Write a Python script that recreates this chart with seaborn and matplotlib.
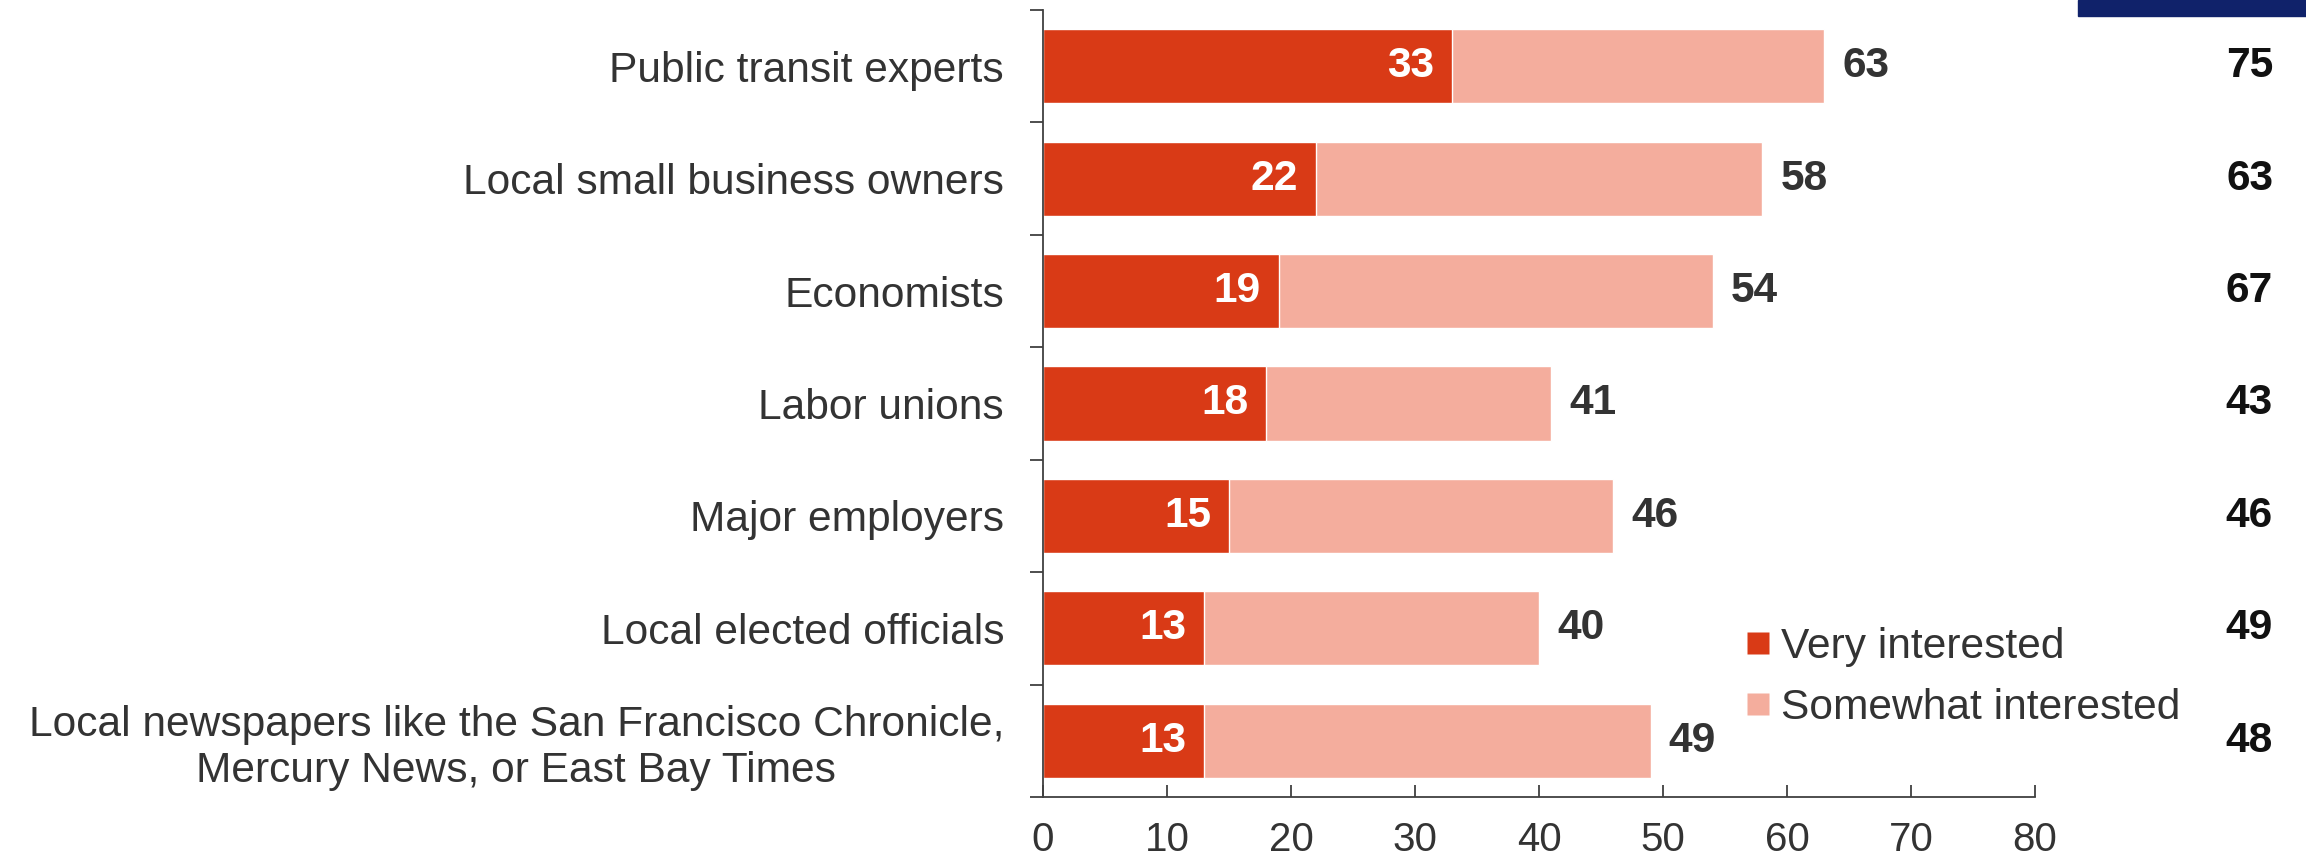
import matplotlib
matplotlib.use("Agg")
import matplotlib.pyplot as plt
import seaborn as sns
import pandas as pd
from matplotlib.lines import Line2D
import matplotlib.transforms as mtransforms

# Survey data: share of respondents interested in hearing from each group
groups = [
    "Public transit experts",
    "Local small business owners",
    "Economists",
    "Labor unions",
    "Major employers",
    "Local elected officials",
    "Local newspapers like the San Francisco Chronicle,\nMercury News, or East Bay Times",
]
very_interested = [33, 22, 19, 18, 15, 13, 13]
total_interested = [63, 58, 54, 41, 46, 40, 49]
prior_totals = [75, 63, 67, 43, 46, 49, 48]
x_ticks = [0, 10, 20, 30, 40, 50, 60, 70, 80]

DARK = "#D93A16"
LIGHT = "#F4AD9D"
TEXT = "#333333"
AXIS = "#404040"
FS = 30.6

df = pd.DataFrame({"group": groups, "very": very_interested, "total": total_interested})

sns.set_theme(style="white")
plt.rcParams["font.family"] = ["Liberation Sans", "DejaVu Sans"]

W, H, DPI = 2306, 865, 100
fig = plt.figure(figsize=(W / DPI, H / DPI), dpi=DPI)
ax = fig.add_axes([1043 / W, 1 - 797 / H, (2035 - 1043) / W, (797 - 10) / H])

# Total bar underneath, "very interested" segment drawn over it
sns.barplot(data=df, y="group", x="total", color=LIGHT, orient="h", width=0.66,
            saturation=1, ax=ax)
sns.barplot(data=df, y="group", x="very", color=DARK, orient="h", width=0.66,
            saturation=1, ax=ax)

ax.set_xlim(0, 80)
ax.set_ylim(len(groups) - 0.5, -0.5)
ax.set_xlabel("")
ax.set_ylabel("")

# Value labels
for i, (v, t) in enumerate(zip(very_interested, total_interested)):
    ax.annotate(str(v), (v, i), xytext=(-13, 0), textcoords="offset points",
                ha="right", va="center", color="white", fontsize=FS, fontweight="bold")
    ax.annotate(str(t), (t, i), xytext=(13, 0), textcoords="offset points",
                ha="left", va="center", color=TEXT, fontsize=FS, fontweight="bold")

# Comparison column at the far right
trans = mtransforms.blended_transform_factory(fig.transFigure, ax.transData)
for i, p in enumerate(prior_totals):
    ax.text(2273 / W, i, str(p), transform=trans, ha="right", va="center",
            fontsize=FS, fontweight="bold", color="#111111", clip_on=False)

# Axes styling
for s in ("top", "right"):
    ax.spines[s].set_visible(False)
for s in ("left", "bottom"):
    ax.spines[s].set_color(AXIS)
    ax.spines[s].set_linewidth(1.3)

ax.set_xticks(x_ticks)
ax.set_xticklabels([str(x) for x in x_ticks])
ax.tick_params(axis="x", direction="in", length=9, width=1.3, color=AXIS,
               labelsize=29, labelcolor=TEXT, pad=17, bottom=True)

ax.set_yticks(range(len(groups)))
ax.set_yticklabels(groups)
ax.set_yticks([i - 0.5 for i in range(len(groups) + 1)], minor=True)
ax.tick_params(axis="y", which="major", length=0, labelsize=FS, labelcolor=TEXT, pad=28)
ax.tick_params(axis="y", which="minor", direction="out", length=9.4, width=1.3,
               color=AXIS, left=True)
for lbl in ax.get_yticklabels():
    lbl.set_multialignment("center")
    lbl.set_linespacing(1.2)

# Legend
handles = [
    Line2D([], [], marker="s", linestyle="none", markersize=16, markerfacecolor=DARK,
           markeredgecolor="none", label="Very interested"),
    Line2D([], [], marker="s", linestyle="none", markersize=16, markerfacecolor=LIGHT,
           markeredgecolor="none", label="Somewhat interested"),
]
fig.legend(handles=handles, loc="upper left", bbox_to_anchor=(1745 / W, 1 - 627 / H),
           frameon=False, fontsize=FS, labelcolor=TEXT, handlelength=0.6,
           handletextpad=0.25, labelspacing=0.5, borderaxespad=0, borderpad=0)

# Navy header strip at the top right
fig.patches.append(plt.Rectangle((2078 / W, 1 - 16 / H), (W - 2078) / W, 16 / H,
                                 transform=fig.transFigure, color="#10226A", zorder=0))

fig.savefig("out.png", dpi=DPI)
